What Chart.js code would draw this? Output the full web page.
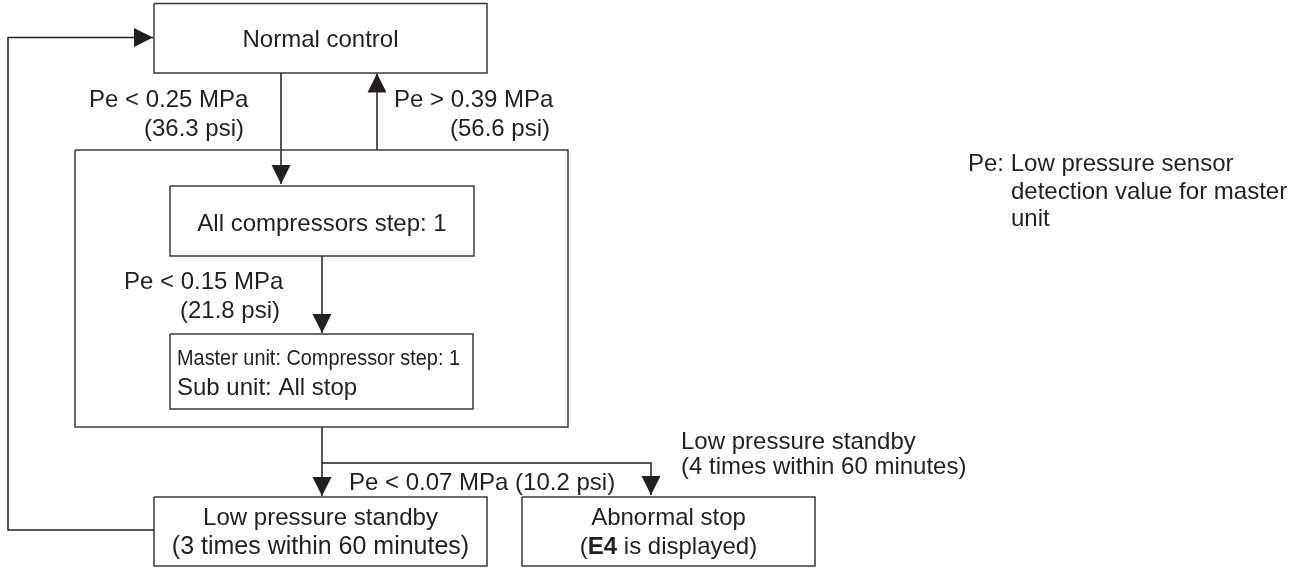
<!DOCTYPE html>
<html>
<head>
<meta charset="utf-8">
<script src="https://cdn.jsdelivr.net/npm/chart.js@4.4.1/dist/chart.umd.min.js"></script>
<style>
  html, body { margin: 0; padding: 0; background: #ffffff; }
  #wrap { width: 1300px; height: 568px; }
</style>
</head>
<body>
<div id="wrap"><canvas id="c" width="1300" height="568"></canvas></div>
<script>
// ---------------- content (values / texts) ----------------
const thresholdSigns = ['<', '>', '<', '<'];
const thresholdsMPa  = [0.25, 0.39, 0.15, 0.07];
const thresholdsPsi  = [36.3, 56.6, 21.8, 10.2];
const stateNames = ['Normal control', 'All compressors step: 1', 'Master unit: Compressor step: 1',
                    'Sub unit: All stop', 'Low pressure standby', 'Abnormal stop'];
const standbyCounts = [3, 4];
const windowMinutes = 60;
const errorCode = 'E4';
const noteLines = ['Pe: Low pressure sensor', 'detection value for master', 'unit'];

const mpaText = i => 'Pe ' + thresholdSigns[i] + ' ' + thresholdsMPa[i].toFixed(2) + ' MPa';
const psiText = i => '(' + thresholdsPsi[i].toFixed(1) + ' psi)';
const countText = i => '(' + standbyCounts[i] + ' times within ' + windowMinutes + ' minutes)';

// ---------------- layout (diagram coordinates on the axes) ----------------
const layout = {
  boxes: [
    [154, 3.5, 487, 73],    // normal control
    [75, 150, 568, 427],    // outer group
    [170, 186, 474, 256],   // all compressors
    [170, 334, 473, 409],   // master/sub
    [154, 497, 487, 566],   // low pressure standby
    [522, 497, 815, 566]    // abnormal stop
  ],
  arrows: [
    [[281, 73], [281, 184]],
    [[377, 150], [377, 73.5]],
    [[322, 256], [322, 333]],
    [[322, 427], [322, 496]],
    [[322, 463], [651, 463], [651, 495]],
    [[154, 530], [8, 530], [8, 37.5], [153, 37.5]]
  ],
  labels: [
    { t: () => stateNames[0], x: 320.5, y: 40, a: 'center' },
    { t: () => mpaText(0), x: 89, y: 100, a: 'left' },
    { t: () => psiText(0), x: 144, y: 129, a: 'left' },
    { t: () => mpaText(1), x: 394, y: 100, a: 'left' },
    { t: () => psiText(1), x: 450, y: 129, a: 'left' },
    { t: () => stateNames[1], x: 322, y: 224, a: 'center' },
    { t: () => mpaText(2), x: 124, y: 282, a: 'left' },
    { t: () => psiText(2), x: 180, y: 311, a: 'left' },
    { t: () => stateNames[2], x: 177, y: 359, a: 'left', size: 22, maxW: 283 },
    { t: () => stateNames[3], x: 177, y: 388, a: 'left' },
    { t: () => mpaText(3) + ' ' + psiText(3), x: 349, y: 483, a: 'left' },
    { t: () => stateNames[4], x: 681, y: 442, a: 'left' },
    { t: () => countText(1), x: 681, y: 467, a: 'left' },
    { t: () => stateNames[4], x: 320.5, y: 518, a: 'center' },
    { t: () => countText(0), x: 320.5, y: 547, a: 'center', size: 25 },
    { t: () => stateNames[5], x: 668.5, y: 518, a: 'center' },
    { rich: () => [['(', false], [errorCode, true], [' is displayed)', false]], x: 668.5, y: 547, a: 'center' },
    { t: () => noteLines[0], x: 968, y: 164, a: 'left' },
    { t: () => noteLines[1], x: 1011, y: 192, a: 'left' },
    { t: () => noteLines[2], x: 1011, y: 219, a: 'left' }
  ]
};

const INK = '#231f20';
const FONT = '"Liberation Sans", Arial, Helvetica, sans-serif';

const datasets = [];
layout.boxes.forEach(b => {
  datasets.push({
    data: [{x: b[0], y: b[1]}, {x: b[2], y: b[1]}, {x: b[2], y: b[3]}, {x: b[0], y: b[3]}, {x: b[0], y: b[1]}],
    showLine: true, borderColor: '#3b3838', borderWidth: 1.5, pointRadius: 0, fill: false,
    tension: 0, clip: false, borderJoinStyle: 'miter'
  });
});
layout.arrows.forEach(a => {
  datasets.push({
    data: a.map(p => ({x: p[0], y: p[1]})),
    showLine: true, borderColor: INK, borderWidth: 1.5, pointRadius: 0, fill: false,
    tension: 0, clip: false, arrow: true, borderJoinStyle: 'miter'
  });
});

const diagramPlugin = {
  id: 'diagram',
  afterDatasetsDraw(chart) {
    const ctx = chart.ctx;
    const xs = chart.scales.x, ys = chart.scales.y;
    // arrowheads
    chart.data.datasets.forEach((ds, i) => {
      if (!ds.arrow) return;
      const meta = chart.getDatasetMeta(i);
      const pts = meta.data;
      const p1 = pts[pts.length - 1], p0 = pts[pts.length - 2];
      const ang = Math.atan2(p1.y - p0.y, p1.x - p0.x);
      const len = 19, half = 9.5;
      ctx.save();
      ctx.translate(p1.x, p1.y);
      ctx.rotate(ang);
      ctx.beginPath();
      ctx.moveTo(0, 0);
      ctx.lineTo(-len, -half);
      ctx.lineTo(-len, half);
      ctx.closePath();
      ctx.fillStyle = INK;
      ctx.fill();
      ctx.restore();
    });
    // texts
    ctx.save();
    ctx.fillStyle = INK;
    ctx.textBaseline = 'middle';
    layout.labels.forEach(l => {
      const px = xs.getPixelForValue(l.x), py = ys.getPixelForValue(l.y);
      const size = l.size || 24;
      if (l.rich) {
        const segs = l.rich();
        let total = 0;
        const widths = segs.map(s => {
          ctx.font = (s[1] ? 'bold ' : '') + size + 'px ' + FONT;
          const w = ctx.measureText(s[0]).width; total += w; return w;
        });
        let x = l.a === 'center' ? px - total / 2 : px;
        ctx.textAlign = 'left';
        segs.forEach((s, k) => {
          ctx.font = (s[1] ? 'bold ' : '') + size + 'px ' + FONT;
          ctx.fillText(s[0], x, py);
          x += widths[k];
        });
      } else {
        ctx.font = size + 'px ' + FONT;
        ctx.textAlign = l.a;
        if (l.maxW) ctx.fillText(l.t(), px, py, l.maxW);
        else ctx.fillText(l.t(), px, py);
      }
    });
    ctx.restore();
  }
};

new Chart(document.getElementById('c'), {
  type: 'scatter',
  data: { datasets },
  options: {
    responsive: false,
    animation: false,
    devicePixelRatio: 1,
    layout: { padding: 0 },
    plugins: { legend: { display: false }, tooltip: { enabled: false } },
    events: [],
    scales: {
      x: { type: 'linear', min: 0, max: 1300, display: false },
      y: { type: 'linear', min: 0, max: 568, reverse: true, display: false }
    }
  },
  plugins: [diagramPlugin]
});
</script>
</body>
</html>
